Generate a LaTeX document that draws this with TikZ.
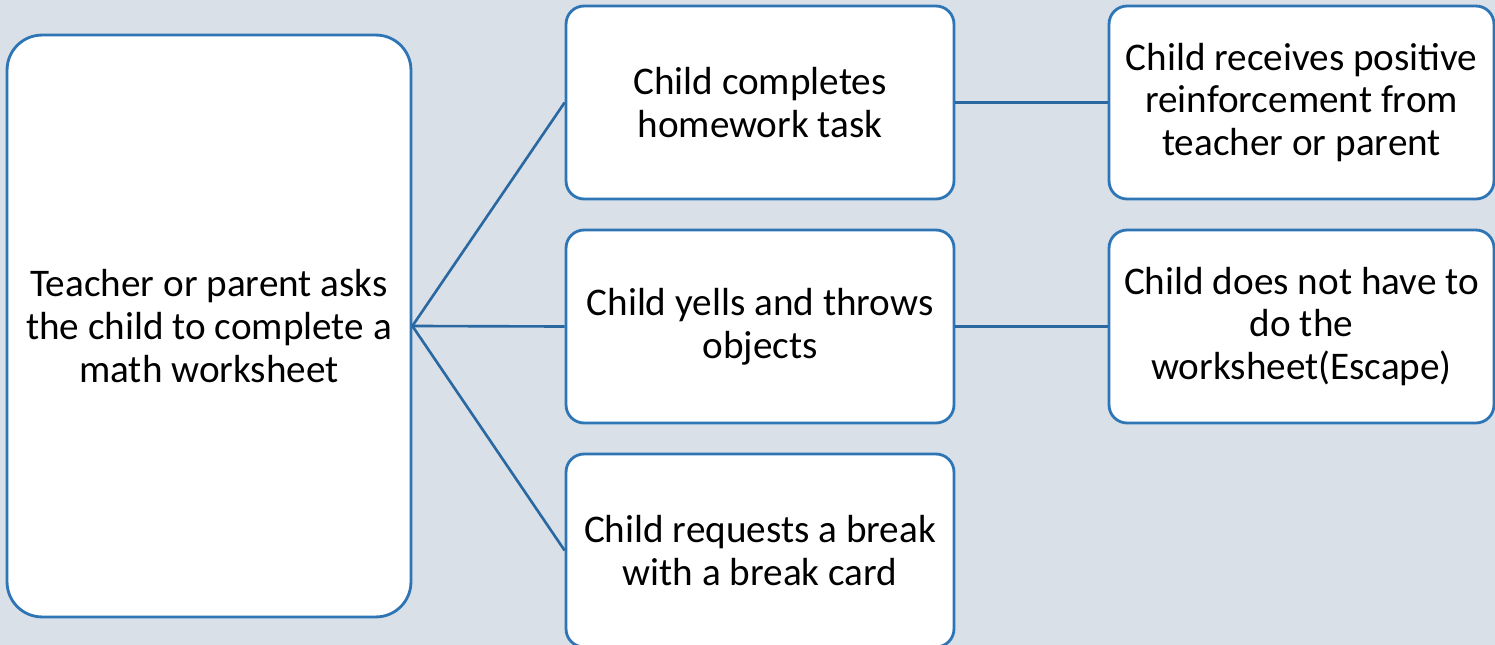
\documentclass[tikz,border=0pt]{standalone}
\usepackage{fontspec}
\setmainfont{Carlito}
\usepackage{tikz}
\usetikzlibrary{positioning}
\definecolor{SlateBg}{HTML}{D9E0E8}
\definecolor{EdgeBlue}{HTML}{2E75B6}
\definecolor{LinkBlue}{HTML}{2A68A2}

\begin{document}
\begin{tikzpicture}[x=0.02cm, y=-0.02cm,
        box/.style={draw=EdgeBlue, line width=1.6pt, rounded corners=0.36cm, fill=white,
                    minimum width=7.76cm, minimum height=3.86cm,
                    align=center, font=\fontsize{22.3}{24.4}\selectfont},
        antecedent/.style={draw=EdgeBlue, line width=1.6pt, rounded corners=0.7cm, fill=white,
                    minimum width=8.08cm, minimum height=11.64cm,
                    align=center, font=\fontsize{22.3}{24.4}\selectfont},
        link/.style={LinkBlue, line width=1.5pt}]

        % Canvas
        \useasboundingbox (0,0) rectangle (1495,645);
        \clip (0,0) rectangle (1495,645);
        \fill[SlateBg] (0,0) rectangle (1495,645);

        % Antecedent
        \node[antecedent] (ask) at (209,326) {Teacher or parent asks\\the child to complete a\\math worksheet};

        % Behaviours
        \node[box] (done) at (760,102.5) {Child completes\\homework task};
        \node[box] (yell) at (760,326.5) {Child yells and throws\\objects};
        \node[box] (brk)  at (760,550.5) {Child requests a break\\with a break card};

        % Consequences
        \node[box, minimum width=7.7cm] (praise) at (1301.5,102.5) {Child receives positive\\reinforcement from\\teacher or parent};
        \node[box, minimum width=7.7cm] (escape) at (1301.5,326.5) {Child does not have to\\do the\\worksheet(Escape)};

        % Links
        \draw[link] (ask.east) -- (done.west);
        \draw[link] (ask.east) -- (yell.west);
        \draw[link] (ask.east) -- (brk.west);
        \draw[link] (done.east) -- (praise.west);
        \draw[link] (yell.east) -- (escape.west);
      \end{tikzpicture}
\end{document}
